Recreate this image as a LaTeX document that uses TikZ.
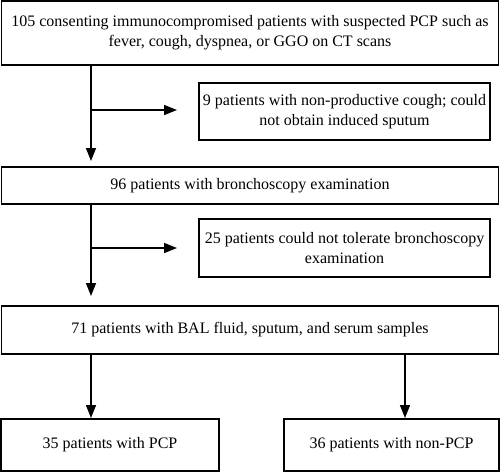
\documentclass[tikz,border=0pt]{standalone}
\usepackage{fontspec}
\setmainfont{Liberation Serif}
\usetikzlibrary{arrows.meta}
\begin{document}
\begin{tikzpicture}[x=1pt,y=-1pt,
  box/.style={draw,line width=1.5pt,inner sep=0pt,align=center,font=\fontsize{16}{20}\selectfont},
  arr/.style={line width=1.5pt,-{Triangle[length=13pt,width=10pt]}}]
\useasboundingbox (0,0) rectangle (500,472);
\node[box,minimum width=497pt,minimum height=64pt] (b1) at (250,33) {105 consenting immunocompromised patients with suspected PCP such as\\fever, cough, dyspnea, or GGO on CT scans};
\node[box,minimum width=291pt,minimum height=57pt] (s1) at (344.5,111.5) {9 patients with non-productive cough; could\\not obtain induced sputum};
\node[box,minimum width=497pt,minimum height=37pt] (b2) at (250,185.5) {96 patients with bronchoscopy examination};
\node[box,minimum width=291pt,minimum height=58pt] (s2) at (344.5,248) {25 patients could not tolerate bronchoscopy\\examination};
\node[box,minimum width=497pt,minimum height=48pt] (b3) at (250,330) {71 patients with BAL fluid, sputum, and serum samples};
\node[box,minimum width=218pt,minimum height=52pt] (b4) at (110,445) {35 patients with PCP};
\node[box,minimum width=215pt,minimum height=52pt] (b5) at (391.5,445) {36 patients with non-PCP};
\coordinate (a1) at (91,161);
\coordinate (j1) at (91,110);
\coordinate (t1) at (177,110);
\coordinate (a2) at (91,296);
\coordinate (j2) at (91,248);
\coordinate (t2) at (177,248);
\coordinate (a3) at (91,418);
\coordinate (a4) at (405,418);
\draw[arr] (b1.south -| a1) -- (a1);
\draw[arr] (j1) -- (t1);
\draw[arr] (b2.south -| a2) -- (a2);
\draw[arr] (j2) -- (t2);
\draw[arr] (b3.south -| a3) -- (a3);
\draw[arr] (b3.south -| a4) -- (a4);
\end{tikzpicture}
\end{document}
